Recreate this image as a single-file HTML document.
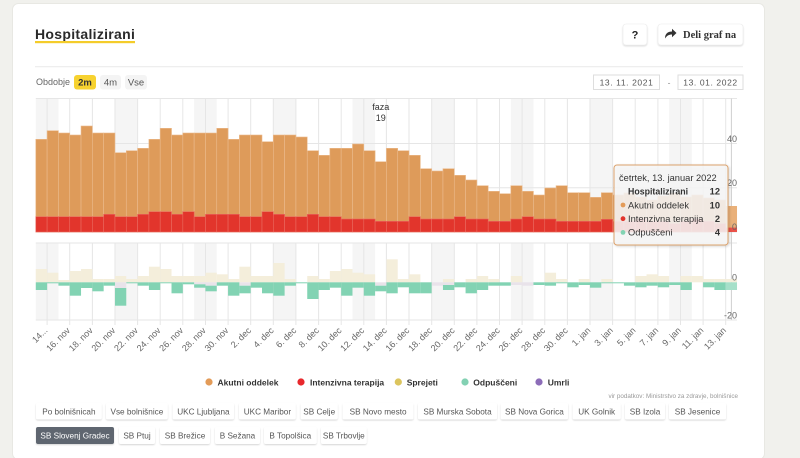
<!DOCTYPE html>
<html><head><meta charset="utf-8"><style>
html,body{margin:0;padding:0;background:#f1f1ed;width:800px;height:458px;overflow:hidden;}
svg{display:block;font-family:"Liberation Sans",sans-serif;}
.o{fill:#de9b5a;stroke:#ebbb8e;stroke-width:.6}
.r{fill:#e2352c;stroke:#ea6b60;stroke-width:.6}
.b{fill:#f4eedb}
.g{fill:#82d3b3}
.u{fill:#e9e3ea}
.xl text{font-size:9px;fill:#666;text-anchor:end}
.btn{fill:#fff;filter:url(#sh)}
.bt{font-size:8.2px;fill:#555;text-anchor:middle}
</style></head><body>
<svg width="800" height="458" viewBox="0 0 800 458">
<defs>
<filter id="sh" x="-20%" y="-30%" width="140%" height="170%"><feDropShadow dx="0" dy="1" stdDeviation="0.9" flood-color="#000" flood-opacity=".16"/></filter>
<filter id="tsh" x="-10%" y="-10%" width="130%" height="130%"><feDropShadow dx="1" dy="1" stdDeviation="1.2" flood-color="#000" flood-opacity=".18"/></filter>
</defs>
<rect x="0" y="0" width="800" height="458" fill="#f1f1ed"/>
<rect x="12.5" y="3.5" width="752" height="456" rx="6" fill="#fff" stroke="#e8e8e3"/>

<!-- header -->
<text x="35" y="39" font-size="14" font-weight="bold" letter-spacing=".3" fill="#2a2a2a">Hospitalizirani</text>
<rect x="35" y="41" width="100" height="2.2" fill="#f4cc2a"/>
<rect class="btn" x="623" y="24" width="24" height="21" rx="3" stroke="#ececec" stroke-width=".6"/>
<text x="635" y="38.5" font-size="11" font-weight="bold" text-anchor="middle" fill="#222">?</text>
<rect class="btn" x="658" y="24" width="85" height="21" rx="3" stroke="#ececec" stroke-width=".6"/>
<path d="M665,38.5 C665,33.5 668,31.5 672,31.5 L672,28.8 L676.5,33 L672,37.2 L672,34.5 C669,34.5 667,35.5 665,38.5 Z" fill="#333"/>
<text x="683" y="38" font-size="10.5" font-weight="bold" font-family="Liberation Serif,serif" fill="#333">Deli graf na</text>
<line x1="35" y1="66.7" x2="743" y2="66.7" stroke="#e9e9e9"/>

<text x="36" y="85" font-size="9" fill="#666">Obdobje</text>
<rect x="74" y="75" width="22" height="14.5" rx="3" fill="#f7d230"/>
<text x="85" y="85.5" font-size="9.5" font-weight="bold" text-anchor="middle" fill="#333">2m</text>
<rect x="100" y="75" width="21" height="14.5" rx="3" fill="#f4f4f4"/>
<text x="110.5" y="85.5" font-size="9.5" text-anchor="middle" fill="#555">4m</text>
<rect x="125" y="75" width="22" height="14.5" rx="3" fill="#f4f4f4"/>
<text x="136" y="85.5" font-size="9.5" text-anchor="middle" fill="#555">Vse</text>

<rect x="593.5" y="75" width="66" height="14.5" fill="#fff" stroke="#dedede"/>
<text x="626.5" y="85.3" font-size="8.5" letter-spacing=".6" text-anchor="middle" fill="#555">13. 11. 2021</text>
<text x="669" y="85.3" font-size="8.5" text-anchor="middle" fill="#888">-</text>
<rect x="678" y="75" width="65" height="14.5" fill="#fff" stroke="#dedede"/>
<text x="710.5" y="85.3" font-size="8.5" letter-spacing=".6" text-anchor="middle" fill="#555">13. 01. 2022</text>

<!-- weekend shading -->
<g fill="#f5f5f5">
<rect x="35.8" y="98.5" width="22.62" height="133.5"/><rect x="35.8" y="243" width="22.62" height="77"/>
<rect x="114.97" y="98.5" width="22.62" height="133.5"/><rect x="114.97" y="243" width="22.62" height="77"/>
<rect x="194.14" y="98.5" width="22.62" height="133.5"/><rect x="194.14" y="243" width="22.62" height="77"/>
<rect x="273.31" y="98.5" width="22.62" height="133.5"/><rect x="273.31" y="243" width="22.62" height="77"/>
<rect x="352.48" y="98.5" width="22.62" height="133.5"/><rect x="352.48" y="243" width="22.62" height="77"/>
<rect x="431.65" y="98.5" width="22.62" height="133.5"/><rect x="431.65" y="243" width="22.62" height="77"/>
<rect x="510.82" y="98.5" width="22.62" height="133.5"/><rect x="510.82" y="243" width="22.62" height="77"/>
<rect x="589.99" y="98.5" width="22.62" height="133.5"/><rect x="589.99" y="243" width="22.62" height="77"/>
<rect x="669.16" y="98.5" width="22.62" height="133.5"/><rect x="669.16" y="243" width="22.62" height="77"/>
</g>

<!-- grid -->
<path fill="none" stroke="#e6e6e6" stroke-width="1" d="M35.8 98.5H737M35.8 143.5H737M35.8 187.8H737M35.8 232H737M35.8 243H737M35.8 320H737
M47.1 98.5V232M47.1 243V325M69.7 98.5V232M69.7 243V325M92.4 98.5V232M92.4 243V325M115 98.5V232M115 243V325M137.6 98.5V232M137.6 243V325M160.2 98.5V232M160.2 243V325M182.8 98.5V232M182.8 243V325M205.5 98.5V232M205.5 243V325M228.1 98.5V232M228.1 243V325M250.7 98.5V232M250.7 243V325M273.3 98.5V232M273.3 243V325M295.9 98.5V232M295.9 243V325M318.6 98.5V232M318.6 243V325M341.2 98.5V232M341.2 243V325M363.8 98.5V232M363.8 243V325M386.4 98.5V232M386.4 243V325M409 98.5V232M409 243V325M431.7 98.5V232M431.7 243V325M454.3 98.5V232M454.3 243V325M476.9 98.5V232M476.9 243V325M499.5 98.5V232M499.5 243V325M522.1 98.5V232M522.1 243V325M544.8 98.5V232M544.8 243V325M567.4 98.5V232M567.4 243V325M590 98.5V232M590 243V325M612.6 98.5V232M612.6 243V325M635.2 98.5V232M635.2 243V325M657.9 98.5V232M657.9 243V325M680.5 98.5V232M680.5 243V325M703.1 98.5V232M703.1 243V325M725.7 98.5V232M725.7 243V325"/>
<line x1="731.4" y1="98.5" x2="731.4" y2="320" stroke="#cfcfcf"/>

<!-- upper: orange -->
<g>
<rect class="o" x="35.8" y="139.3" width="11.31" height="92.7"/>
<rect class="o" x="47.11" y="130.7" width="11.31" height="101.3"/>
<rect class="o" x="58.42" y="133" width="11.31" height="99"/>
<rect class="o" x="69.73" y="135" width="11.31" height="97"/>
<rect class="o" x="81.04" y="126" width="11.31" height="106"/>
<rect class="o" x="92.35" y="133" width="11.31" height="99"/>
<rect class="o" x="103.66" y="133" width="11.31" height="99"/>
<rect class="o" x="114.97" y="152.7" width="11.31" height="79.3"/>
<rect class="o" x="126.28" y="150.7" width="11.31" height="81.3"/>
<rect class="o" x="137.59" y="148.3" width="11.31" height="83.7"/>
<rect class="o" x="148.9" y="139.3" width="11.31" height="92.7"/>
<rect class="o" x="160.21" y="128.3" width="11.31" height="103.7"/>
<rect class="o" x="171.52" y="135" width="11.31" height="97"/>
<rect class="o" x="182.83" y="133" width="11.31" height="99"/>
<rect class="o" x="194.14" y="133" width="11.31" height="99"/>
<rect class="o" x="205.45" y="133" width="11.31" height="99"/>
<rect class="o" x="216.76" y="128.3" width="11.31" height="103.7"/>
<rect class="o" x="228.07" y="139.3" width="11.31" height="92.7"/>
<rect class="o" x="239.38" y="135" width="11.31" height="97"/>
<rect class="o" x="250.69" y="135" width="11.31" height="97"/>
<rect class="o" x="262" y="141.7" width="11.31" height="90.3"/>
<rect class="o" x="273.31" y="135" width="11.31" height="97"/>
<rect class="o" x="284.62" y="135" width="11.31" height="97"/>
<rect class="o" x="295.93" y="137" width="11.31" height="95"/>
<rect class="o" x="307.24" y="150.7" width="11.31" height="81.3"/>
<rect class="o" x="318.55" y="155.3" width="11.31" height="76.7"/>
<rect class="o" x="329.86" y="148.3" width="11.31" height="83.7"/>
<rect class="o" x="341.17" y="148.3" width="11.31" height="83.7"/>
<rect class="o" x="352.48" y="144" width="11.31" height="88"/>
<rect class="o" x="363.79" y="150.7" width="11.31" height="81.3"/>
<rect class="o" x="375.1" y="161.7" width="11.31" height="70.3"/>
<rect class="o" x="386.41" y="148.3" width="11.31" height="83.7"/>
<rect class="o" x="397.72" y="150.7" width="11.31" height="81.3"/>
<rect class="o" x="409.03" y="155.3" width="11.31" height="76.7"/>
<rect class="o" x="420.34" y="168.7" width="11.31" height="63.3"/>
<rect class="o" x="431.65" y="171" width="11.31" height="61"/>
<rect class="o" x="442.96" y="168.7" width="11.31" height="63.3"/>
<rect class="o" x="454.27" y="175.3" width="11.31" height="56.7"/>
<rect class="o" x="465.58" y="180" width="11.31" height="52"/>
<rect class="o" x="476.89" y="185.7" width="11.31" height="46.3"/>
<rect class="o" x="488.2" y="191.3" width="11.31" height="40.7"/>
<rect class="o" x="499.51" y="193.7" width="11.31" height="38.3"/>
<rect class="o" x="510.82" y="185.7" width="11.31" height="46.3"/>
<rect class="o" x="522.13" y="191.3" width="11.31" height="40.7"/>
<rect class="o" x="533.44" y="195" width="11.31" height="37"/>
<rect class="o" x="544.75" y="188" width="11.31" height="44"/>
<rect class="o" x="556.06" y="185.7" width="11.31" height="46.3"/>
<rect class="o" x="567.37" y="192.7" width="11.31" height="39.3"/>
<rect class="o" x="578.68" y="192.7" width="11.31" height="39.3"/>
<rect class="o" x="589.99" y="197.3" width="11.31" height="34.7"/>
<rect class="o" x="601.3" y="192.7" width="11.31" height="39.3"/>
<rect class="o" x="612.61" y="195" width="11.31" height="37"/>
<rect class="o" x="623.92" y="193" width="11.31" height="39"/>
<rect class="o" x="635.23" y="197" width="11.31" height="35"/>
<rect class="o" x="646.54" y="200" width="11.31" height="32"/>
<rect class="o" x="657.85" y="196" width="11.31" height="36"/>
<rect class="o" x="669.16" y="193" width="11.31" height="39"/>
<rect class="o" x="680.47" y="197" width="11.31" height="35"/>
<rect class="o" x="691.78" y="195" width="11.31" height="37"/>
<rect class="o" x="703.09" y="198" width="11.31" height="34"/>
<rect class="o" x="714.4" y="200" width="11.31" height="32"/>
<rect x="725.71" y="206" width="11.31" height="26" fill="#e9b079"/>
</g>
<!-- upper: red -->
<g>
<rect class="r" x="35.8" y="216.7" width="11.31" height="15.3"/>
<rect class="r" x="47.11" y="216.7" width="11.31" height="15.3"/>
<rect class="r" x="58.42" y="216.7" width="11.31" height="15.3"/>
<rect class="r" x="69.73" y="216.7" width="11.31" height="15.3"/>
<rect class="r" x="81.04" y="216.7" width="11.31" height="15.3"/>
<rect class="r" x="92.35" y="216.7" width="11.31" height="15.3"/>
<rect class="r" x="103.66" y="214.3" width="11.31" height="17.7"/>
<rect class="r" x="114.97" y="216.7" width="11.31" height="15.3"/>
<rect class="r" x="126.28" y="216.7" width="11.31" height="15.3"/>
<rect class="r" x="137.59" y="214.3" width="11.31" height="17.7"/>
<rect class="r" x="148.9" y="211.7" width="11.31" height="20.3"/>
<rect class="r" x="160.21" y="211.7" width="11.31" height="20.3"/>
<rect class="r" x="171.52" y="214.3" width="11.31" height="17.7"/>
<rect class="r" x="182.83" y="211.7" width="11.31" height="20.3"/>
<rect class="r" x="194.14" y="216.7" width="11.31" height="15.3"/>
<rect class="r" x="205.45" y="214.3" width="11.31" height="17.7"/>
<rect class="r" x="216.76" y="214.3" width="11.31" height="17.7"/>
<rect class="r" x="228.07" y="214.3" width="11.31" height="17.7"/>
<rect class="r" x="239.38" y="216.7" width="11.31" height="15.3"/>
<rect class="r" x="250.69" y="216.7" width="11.31" height="15.3"/>
<rect class="r" x="262" y="211.7" width="11.31" height="20.3"/>
<rect class="r" x="273.31" y="214.3" width="11.31" height="17.7"/>
<rect class="r" x="284.62" y="216.7" width="11.31" height="15.3"/>
<rect class="r" x="295.93" y="216.7" width="11.31" height="15.3"/>
<rect class="r" x="307.24" y="214.3" width="11.31" height="17.7"/>
<rect class="r" x="318.55" y="216.7" width="11.31" height="15.3"/>
<rect class="r" x="329.86" y="216.7" width="11.31" height="15.3"/>
<rect class="r" x="341.17" y="219" width="11.31" height="13"/>
<rect class="r" x="352.48" y="219" width="11.31" height="13"/>
<rect class="r" x="363.79" y="219" width="11.31" height="13"/>
<rect class="r" x="375.1" y="221.3" width="11.31" height="10.7"/>
<rect class="r" x="386.41" y="221.3" width="11.31" height="10.7"/>
<rect class="r" x="397.72" y="221.3" width="11.31" height="10.7"/>
<rect class="r" x="409.03" y="216.7" width="11.31" height="15.3"/>
<rect class="r" x="420.34" y="219" width="11.31" height="13"/>
<rect class="r" x="431.65" y="219" width="11.31" height="13"/>
<rect class="r" x="442.96" y="219" width="11.31" height="13"/>
<rect class="r" x="454.27" y="216.7" width="11.31" height="15.3"/>
<rect class="r" x="465.58" y="219" width="11.31" height="13"/>
<rect class="r" x="476.89" y="219" width="11.31" height="13"/>
<rect class="r" x="488.2" y="221.3" width="11.31" height="10.7"/>
<rect class="r" x="499.51" y="221.3" width="11.31" height="10.7"/>
<rect class="r" x="510.82" y="219" width="11.31" height="13"/>
<rect class="r" x="522.13" y="216.7" width="11.31" height="15.3"/>
<rect class="r" x="533.44" y="219" width="11.31" height="13"/>
<rect class="r" x="544.75" y="219" width="11.31" height="13"/>
<rect class="r" x="556.06" y="221.3" width="11.31" height="10.7"/>
<rect class="r" x="567.37" y="221.3" width="11.31" height="10.7"/>
<rect class="r" x="578.68" y="221.3" width="11.31" height="10.7"/>
<rect class="r" x="589.99" y="221.3" width="11.31" height="10.7"/>
<rect class="r" x="601.3" y="219.3" width="11.31" height="12.7"/>
<rect class="r" x="612.61" y="221.3" width="11.31" height="10.7"/>
<rect class="r" x="623.92" y="221.3" width="11.31" height="10.7"/>
<rect class="r" x="635.23" y="219" width="11.31" height="13"/>
<rect class="r" x="646.54" y="221.3" width="11.31" height="10.7"/>
<rect class="r" x="657.85" y="221.3" width="11.31" height="10.7"/>
<rect class="r" x="669.16" y="223.5" width="11.31" height="8.5"/>
<rect class="r" x="680.47" y="221.3" width="11.31" height="10.7"/>
<rect class="r" x="691.78" y="219" width="11.31" height="13"/>
<rect class="r" x="703.09" y="221.3" width="11.31" height="10.7"/>
<rect class="r" x="714.4" y="223.5" width="11.31" height="8.5"/>
<rect x="725.71" y="227.6" width="11.31" height="4.4" fill="#ea5148"/>
</g>

<!-- lower: beige (Sprejeti) -->
<g class="b">
<rect x="35.8" y="269" width="11.31" height="13.3"/>
<rect x="47.11" y="272.7" width="11.31" height="9.6"/>
<rect x="58.42" y="280" width="11.31" height="2.3"/>
<rect x="69.73" y="271" width="11.31" height="11.3"/>
<rect x="81.04" y="269" width="11.31" height="13.3"/>
<rect x="92.35" y="279" width="11.31" height="3.3"/>
<rect x="103.66" y="279" width="11.31" height="3.3"/>
<rect x="114.97" y="276" width="11.31" height="6.3"/>
<rect x="126.28" y="279" width="11.31" height="3.3"/>
<rect x="137.59" y="276" width="11.31" height="6.3"/>
<rect x="148.9" y="266.7" width="11.31" height="15.6"/>
<rect x="160.21" y="269" width="11.31" height="13.3"/>
<rect x="171.52" y="276" width="11.31" height="6.3"/>
<rect x="182.83" y="276" width="11.31" height="6.3"/>
<rect x="194.14" y="276" width="11.31" height="6.3"/>
<rect x="205.45" y="272.7" width="11.31" height="9.6"/>
<rect x="216.76" y="274.3" width="11.31" height="8"/>
<rect x="228.07" y="279" width="11.31" height="3.3"/>
<rect x="239.38" y="266.7" width="11.31" height="15.6"/>
<rect x="250.69" y="276" width="11.31" height="6.3"/>
<rect x="262" y="276" width="11.31" height="6.3"/>
<rect x="273.31" y="263" width="11.31" height="19.3"/>
<rect x="284.62" y="279" width="11.31" height="3.3"/>
<rect x="307.24" y="276" width="11.31" height="6.3"/>
<rect x="318.55" y="279" width="11.31" height="3.3"/>
<rect x="329.86" y="271" width="11.31" height="11.3"/>
<rect x="341.17" y="269" width="11.31" height="13.3"/>
<rect x="352.48" y="272.7" width="11.31" height="9.6"/>
<rect x="363.79" y="274.3" width="11.31" height="8"/>
<rect x="386.41" y="259.3" width="11.31" height="23"/>
<rect x="397.72" y="279" width="11.31" height="3.3"/>
<rect x="409.03" y="274.3" width="11.31" height="8"/>
<rect x="442.96" y="279" width="11.31" height="3.3"/>
<rect x="465.58" y="279" width="11.31" height="3.3"/>
<rect x="476.89" y="276" width="11.31" height="6.3"/>
<rect x="488.2" y="279" width="11.31" height="3.3"/>
<rect x="510.82" y="276" width="11.31" height="6.3"/>
<rect x="544.75" y="272.7" width="11.31" height="9.6"/>
<rect x="556.06" y="279" width="11.31" height="3.3"/>
<rect x="578.68" y="279" width="11.31" height="3.3"/>
<rect x="601.3" y="279" width="11.31" height="3.3"/>
<rect x="635.23" y="276" width="11.31" height="6.3"/>
<rect x="646.54" y="274.3" width="11.31" height="8"/>
<rect x="657.85" y="276" width="11.31" height="6.3"/>
<rect x="680.47" y="276" width="11.31" height="6.3"/>
<rect x="691.78" y="276" width="11.31" height="6.3"/>
<rect x="703.09" y="279" width="11.31" height="3.3"/>
<rect x="714.4" y="279" width="11.31" height="3.3"/>
<rect x="725.71" y="279" width="11.31" height="3.3"/>
</g>
<!-- lower: pale (Umrli) -->
<g class="u">
<rect x="114.97" y="282.3" width="11.31" height="5.7"/>
<rect x="194.14" y="282.3" width="11.31" height="2"/>
<rect x="205.45" y="282.3" width="11.31" height="3.4"/>
<rect x="239.38" y="282.3" width="11.31" height="3.4"/>
<rect x="375.1" y="282.3" width="11.31" height="3.4"/>
<rect x="431.65" y="282.3" width="11.31" height="3.4"/>
<rect x="442.96" y="282.3" width="11.31" height="2.7"/>
<rect x="510.82" y="282.3" width="11.31" height="2.7"/>
<rect x="522.13" y="282.3" width="11.31" height="3.4"/>
</g>
<!-- lower: green (Odpuščeni) -->
<g class="g">
<rect x="35.8" y="282.3" width="11.31" height="7.7"/>
<rect x="47.11" y="282.3" width="11.31" height="1"/>
<rect x="58.42" y="282.3" width="11.31" height="3.4"/>
<rect x="69.73" y="282.3" width="11.31" height="13.4"/>
<rect x="81.04" y="282.3" width="11.31" height="5.7"/>
<rect x="92.35" y="282.3" width="11.31" height="9"/>
<rect x="103.66" y="282.3" width="11.31" height="3.4"/>
<rect x="114.97" y="288" width="11.31" height="17.7"/>
<rect x="126.28" y="282.3" width="11.31" height="1"/>
<rect x="137.59" y="282.3" width="11.31" height="3.4"/>
<rect x="148.9" y="282.3" width="11.31" height="7.7"/>
<rect x="160.21" y="282.3" width="11.31" height="1"/>
<rect x="171.52" y="282.3" width="11.31" height="11"/>
<rect x="182.83" y="282.3" width="11.31" height="2"/>
<rect x="194.14" y="284.3" width="11.31" height="3.4"/>
<rect x="205.45" y="285.7" width="11.31" height="5.6"/>
<rect x="216.76" y="282.3" width="11.31" height="3.4"/>
<rect x="228.07" y="282.3" width="11.31" height="13.4"/>
<rect x="239.38" y="285.7" width="11.31" height="7.6"/>
<rect x="250.69" y="282.3" width="11.31" height="5.4"/>
<rect x="262" y="282.3" width="11.31" height="11"/>
<rect x="273.31" y="282.3" width="11.31" height="13.4"/>
<rect x="284.62" y="282.3" width="11.31" height="3.4"/>
<rect x="295.93" y="282.3" width="11.31" height="1"/>
<rect x="307.24" y="282.3" width="11.31" height="16.7"/>
<rect x="318.55" y="282.3" width="11.31" height="7.7"/>
<rect x="329.86" y="282.3" width="11.31" height="5.4"/>
<rect x="341.17" y="282.3" width="11.31" height="13.4"/>
<rect x="352.48" y="282.3" width="11.31" height="5.4"/>
<rect x="363.79" y="282.3" width="11.31" height="13.4"/>
<rect x="375.1" y="285.7" width="11.31" height="5.6"/>
<rect x="386.41" y="282.3" width="11.31" height="11"/>
<rect x="397.72" y="282.3" width="11.31" height="5"/>
<rect x="409.03" y="282.3" width="11.31" height="11"/>
<rect x="420.34" y="282.3" width="11.31" height="11"/>
<rect x="442.96" y="285" width="11.31" height="5"/>
<rect x="454.27" y="282.3" width="11.31" height="5"/>
<rect x="465.58" y="282.3" width="11.31" height="11"/>
<rect x="476.89" y="282.3" width="11.31" height="7.7"/>
<rect x="488.2" y="282.3" width="11.31" height="3.4"/>
<rect x="499.51" y="282.3" width="11.31" height="3.4"/>
<rect x="533.44" y="282.3" width="11.31" height="2.7"/>
<rect x="544.75" y="282.3" width="11.31" height="3.4"/>
<rect x="556.06" y="282.3" width="11.31" height="1"/>
<rect x="567.37" y="282.3" width="11.31" height="5"/>
<rect x="578.68" y="282.3" width="11.31" height="2.7"/>
<rect x="589.99" y="282.3" width="11.31" height="5.4"/>
<rect x="601.3" y="282.3" width="11.31" height="1"/>
<rect x="612.61" y="282.3" width="11.31" height="1"/>
<rect x="623.92" y="282.3" width="11.31" height="3.4"/>
<rect x="635.23" y="282.3" width="11.31" height="5"/>
<rect x="646.54" y="282.3" width="11.31" height="3.4"/>
<rect x="657.85" y="282.3" width="11.31" height="5"/>
<rect x="669.16" y="282.3" width="11.31" height="2.7"/>
<rect x="680.47" y="282.3" width="11.31" height="7.7"/>
<rect x="703.09" y="282.3" width="11.31" height="5"/>
<rect x="714.4" y="282.3" width="11.31" height="7.7"/>
<rect x="725.71" y="282.3" width="11.31" height="7.7" style="fill:#a6e0c9"/>
</g>

<!-- y labels -->
<g font-size="9" fill="#666" text-anchor="end">
<text x="737" y="142">40</text>
<text x="737" y="186">20</text>
<text x="737" y="230">0</text>
<text x="737" y="280.5">0</text>
<text x="737" y="318.5">-20</text>
</g>

<!-- faza -->
<text x="380.7" y="110" font-size="9" text-anchor="middle" fill="#333">faza</text>
<text x="380.7" y="121" font-size="9" text-anchor="middle" fill="#333">19</text>

<!-- x labels -->
<g class="xl">
<text transform="translate(48.1,331) rotate(-45)">14...</text>
<text transform="translate(70.7,331) rotate(-45)">16. nov</text>
<text transform="translate(93.4,331) rotate(-45)">18. nov</text>
<text transform="translate(116,331) rotate(-45)">20. nov</text>
<text transform="translate(138.6,331) rotate(-45)">22. nov</text>
<text transform="translate(161.2,331) rotate(-45)">24. nov</text>
<text transform="translate(183.8,331) rotate(-45)">26. nov</text>
<text transform="translate(206.5,331) rotate(-45)">28. nov</text>
<text transform="translate(229.1,331) rotate(-45)">30. nov</text>
<text transform="translate(251.7,331) rotate(-45)">2. dec</text>
<text transform="translate(274.3,331) rotate(-45)">4. dec</text>
<text transform="translate(296.9,331) rotate(-45)">6. dec</text>
<text transform="translate(319.6,331) rotate(-45)">8. dec</text>
<text transform="translate(342.2,331) rotate(-45)">10. dec</text>
<text transform="translate(364.8,331) rotate(-45)">12. dec</text>
<text transform="translate(387.4,331) rotate(-45)">14. dec</text>
<text transform="translate(410,331) rotate(-45)">16. dec</text>
<text transform="translate(432.7,331) rotate(-45)">18. dec</text>
<text transform="translate(455.3,331) rotate(-45)">20. dec</text>
<text transform="translate(477.9,331) rotate(-45)">22. dec</text>
<text transform="translate(500.5,331) rotate(-45)">24. dec</text>
<text transform="translate(523.1,331) rotate(-45)">26. dec</text>
<text transform="translate(545.8,331) rotate(-45)">28. dec</text>
<text transform="translate(568.4,331) rotate(-45)">30. dec</text>
<text transform="translate(591,331) rotate(-45)">1. jan</text>
<text transform="translate(613.6,331) rotate(-45)">3. jan</text>
<text transform="translate(636.2,331) rotate(-45)">5. jan</text>
<text transform="translate(658.9,331) rotate(-45)">7. jan</text>
<text transform="translate(681.5,331) rotate(-45)">9. jan</text>
<text transform="translate(704.1,331) rotate(-45)">11. jan</text>
<text transform="translate(726.7,331) rotate(-45)">13. jan</text>
</g>

<!-- tooltip -->
<rect x="614" y="165" width="114" height="80" rx="3" fill="#f7f7f7" fill-opacity=".86" stroke="#dca26c" stroke-width="1" filter="url(#tsh)"/>
<g font-size="9.3" fill="#333">
<text x="619" y="181">četrtek, 13. januar 2022</text>
<text x="628" y="194.5" font-weight="bold" font-size="8.8">Hospitalizirani</text>
<text x="720" y="194.5" text-anchor="end" font-weight="bold">12</text>
<circle cx="623" cy="205" r="2.4" fill="#e39b58"/>
<text x="628" y="208.3">Akutni oddelek</text>
<text x="720" y="208.3" text-anchor="end" font-weight="bold">10</text>
<circle cx="623" cy="218.7" r="2.4" fill="#e2352c"/>
<text x="628" y="222">Intenzivna terapija</text>
<text x="720" y="222" text-anchor="end" font-weight="bold">2</text>
<circle cx="623" cy="232.4" r="2.4" fill="#82d3b3"/>
<text x="628" y="235.7">Odpuščeni</text>
<text x="720" y="235.7" text-anchor="end" font-weight="bold">4</text>
</g>

<!-- legend -->
<g font-size="8.5" font-weight="bold" fill="#333">
<circle cx="209" cy="382" r="3.6" fill="#e39b58"/><text x="217.5" y="385.3">Akutni oddelek</text>
<circle cx="301" cy="382" r="3.6" fill="#e8282c"/><text x="310" y="385.3">Intenzivna terapija</text>
<circle cx="398.3" cy="382" r="3.6" fill="#dcc55e"/><text x="406.7" y="385.3">Sprejeti</text>
<circle cx="465" cy="382" r="3.6" fill="#83d1b3"/><text x="473.3" y="385.3">Odpuščeni</text>
<circle cx="539" cy="382" r="3.6" fill="#8c6cb8"/><text x="547.7" y="385.3">Umrli</text>
</g>
<text x="738" y="398" font-size="6.3" text-anchor="end" fill="#999">vir podatkov: Ministrstvo za zdravje, bolnišnice</text>

<!-- buttons row 1 -->
<g>
<rect class="btn" x="36" y="403" width="65.7" height="16.5" rx="2"/>
<rect class="btn" x="106" y="403" width="61.7" height="16.5" rx="2"/>
<rect class="btn" x="172.7" y="403" width="61.3" height="16.5" rx="2"/>
<rect class="btn" x="239" y="403" width="56.7" height="16.5" rx="2"/>
<rect class="btn" x="300.7" y="403" width="37" height="16.5" rx="2"/>
<rect class="btn" x="342.7" y="403" width="70.8" height="16.5" rx="2"/>
<rect class="btn" x="418" y="403" width="79" height="16.5" rx="2"/>
<rect class="btn" x="500.7" y="403" width="67.3" height="16.5" rx="2"/>
<rect class="btn" x="572.7" y="403" width="48" height="16.5" rx="2"/>
<rect class="btn" x="625" y="403" width="40" height="16.5" rx="2"/>
<rect class="btn" x="669" y="403" width="57" height="16.5" rx="2"/>
<text class="bt" x="68.9" y="414.3">Po bolnišnicah</text>
<text class="bt" x="136.9" y="414.3">Vse bolnišnice</text>
<text class="bt" x="203.4" y="414.3">UKC Ljubljana</text>
<text class="bt" x="267.4" y="414.3">UKC Maribor</text>
<text class="bt" x="319.2" y="414.3">SB Celje</text>
<text class="bt" x="378.1" y="414.3">SB Novo mesto</text>
<text class="bt" x="457.5" y="414.3">SB Murska Sobota</text>
<text class="bt" x="534.4" y="414.3">SB Nova Gorica</text>
<text class="bt" x="596.7" y="414.3">UK Golnik</text>
<text class="bt" x="645" y="414.3">SB Izola</text>
<text class="bt" x="697.5" y="414.3">SB Jesenice</text>
</g>
<!-- buttons row 2 -->
<g>
<rect x="36" y="427" width="78" height="17" rx="2" fill="#5e6670" filter="url(#sh)"/>
<rect class="btn" x="119" y="427" width="36" height="17" rx="2"/>
<rect class="btn" x="160" y="427" width="50" height="17" rx="2"/>
<rect class="btn" x="215" y="427" width="45" height="17" rx="2"/>
<rect class="btn" x="264" y="427" width="52.7" height="17" rx="2"/>
<rect class="btn" x="321" y="427" width="45.7" height="17" rx="2"/>
<text class="bt" x="75" y="438.5" style="fill:#fff">SB Slovenj Gradec</text>
<text class="bt" x="137" y="438.5">SB Ptuj</text>
<text class="bt" x="185" y="438.5">SB Brežice</text>
<text class="bt" x="237.5" y="438.5">B Sežana</text>
<text class="bt" x="290.3" y="438.5">B Topolšica</text>
<text class="bt" x="343.8" y="438.5">SB Trbovlje</text>
</g>
</svg>
</body></html>
